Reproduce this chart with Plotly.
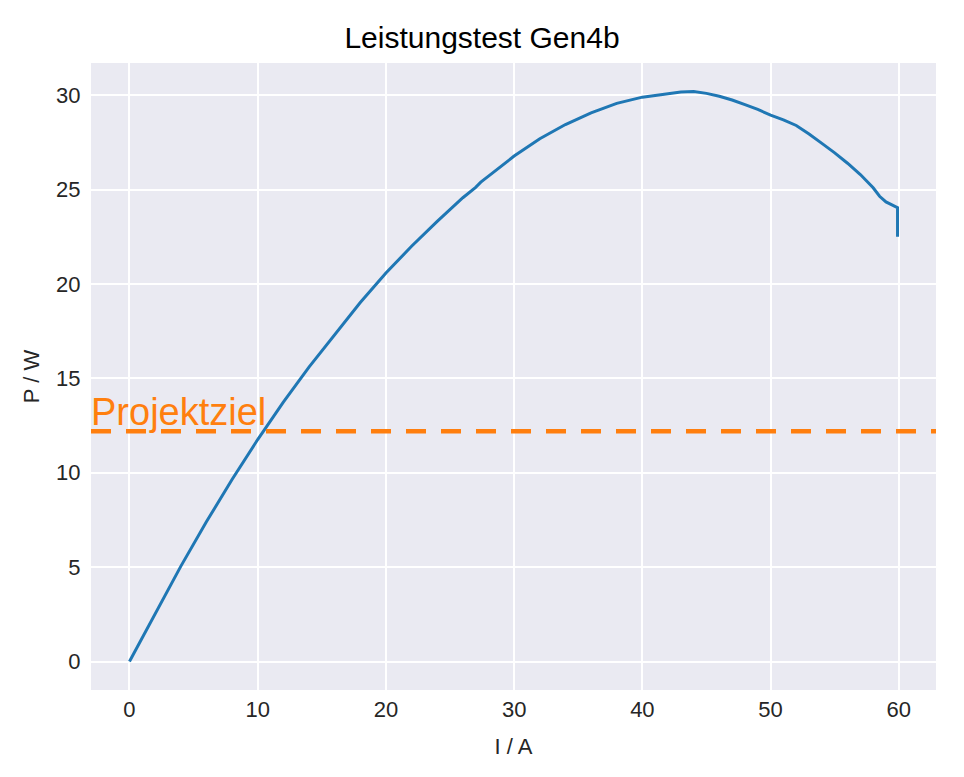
import plotly.graph_objects as go

# Data
I_A = [0, 2, 4, 6, 8, 10, 12, 14, 16, 18, 20, 22, 24, 26, 27, 27.4, 28, 30,
       32, 34, 36, 38, 40, 42, 43, 44, 45, 46, 47, 48, 49, 50, 51, 52, 53,
       54, 55, 56, 57, 58, 58.5, 59, 59.9, 59.9]
P_W = [0, 2.56, 5.04, 7.4, 9.64, 11.76, 13.74, 15.6, 17.34, 19.02, 20.58,
       22.0, 23.32, 24.57, 25.12, 25.4, 25.72, 26.78, 27.7, 28.45, 29.07,
       29.57, 29.9, 30.1, 30.17, 30.2, 30.1, 29.95, 29.75, 29.5, 29.25,
       28.95, 28.7, 28.4, 27.95, 27.45, 26.95, 26.4, 25.8, 25.1, 24.65,
       24.35, 24.05, 22.5]
TARGET_W = 12.2
TARGET_LABEL = "Projektziel"
TITLE = "Leistungstest Gen4b"
X_TICKS = [0, 10, 20, 30, 40, 50, 60]
Y_TICKS = [0, 5, 10, 15, 20, 25, 30]

FONT = "Liberation Sans, Arial, sans-serif"
TICK_COLOR = "#262626"
FIG_W, FIG_H = 948, 761

fig = go.Figure()
fig.add_trace(go.Scatter(
    x=I_A, y=P_W, mode="lines",
    line=dict(color="#1f77b4", width=3),
    showlegend=False, hoverinfo="x+y",
))

fig.add_shape(
    type="line", xref="paper", x0=0, x1=1, yref="y", y0=TARGET_W, y1=TARGET_W,
    line=dict(color="#ff7f0e", width=4.5, dash="20px,15px"),
)
fig.add_annotation(
    xref="paper", x=0, yref="y", y=TARGET_W, xanchor="left", yanchor="bottom",
    text=TARGET_LABEL, showarrow=False, yshift=-4, xshift=-2,
    font=dict(family=FONT, size=38, color="#ff7f0e"),
)

fig.update_layout(
    width=FIG_W, height=FIG_H,
    margin=dict(l=83, r=20, t=55, b=79),
    paper_bgcolor="white",
    plot_bgcolor="#eaeaf2",
    title=dict(text=TITLE, x=0.5, xanchor="center", y=1 - 29 / FIG_H,
               yanchor="middle", yref="container",
               font=dict(family=FONT, size=30, color="black")),
    font=dict(family=FONT, size=22, color=TICK_COLOR),
)
fig.update_xaxes(
    range=[-3.0, 62.9], tickvals=X_TICKS, showgrid=True, gridcolor="white",
    gridwidth=2, zeroline=False, showline=False,
    ticks="outside", ticklen=0, tickcolor="rgba(0,0,0,0)",
    tickfont=dict(family=FONT, size=22, color=TICK_COLOR),
    title=dict(text="I / A", font=dict(family=FONT, size=22, color=TICK_COLOR),
               standoff=17),
)
fig.update_yaxes(
    range=[-1.51, 31.71], tickvals=Y_TICKS, showgrid=True, gridcolor="white",
    gridwidth=2, zeroline=False, showline=False,
    ticks="outside", ticklen=5, tickcolor="rgba(0,0,0,0)",
    tickfont=dict(family=FONT, size=22, color=TICK_COLOR),
    title=dict(text="P / W", font=dict(family=FONT, size=22, color=TICK_COLOR),
               standoff=10),
)

fig.write_html("out.html")
